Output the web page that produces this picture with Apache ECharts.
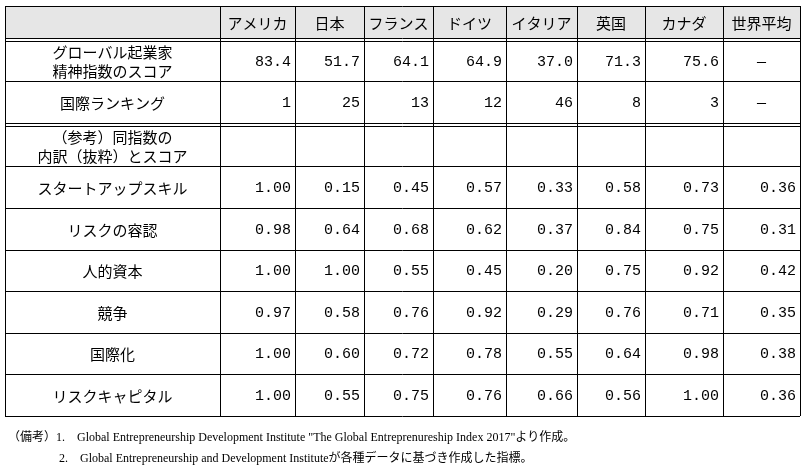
<!DOCTYPE html>
<html><head><meta charset="utf-8">
<script src="https://cdn.jsdelivr.net/npm/echarts@6/dist/echarts.min.js"></script>
<style>body{margin:0;background:#fff}#main{width:804px;height:472px}</style>
</head><body><div id="main"></div>
<script>
var countries = ['アメリカ', '日本', 'フランス', 'ドイツ', 'イタリア', '英国', 'カナダ', '世界平均'];
var rowLabels = [
    'グローバル起業家\n精神指数のスコア', '国際ランキング', '（参考）同指数の\n内訳（抜粋）とスコア',
    'スタートアップスキル', 'リスクの容認', '人的資本', '競争', '国際化', 'リスクキャピタル'
];
var gedi = ['83.4', '51.7', '64.1', '64.9', '37.0', '71.3', '75.6', '―'];
var ranking = ['1', '25', '13', '12', '46', '8', '3', '―'];
var blank = ['', '', '', '', '', '', '', ''];
var startup = ['1.00', '0.15', '0.45', '0.57', '0.33', '0.58', '0.73', '0.36'];
var risk = ['0.98', '0.64', '0.68', '0.62', '0.37', '0.84', '0.75', '0.31'];
var human = ['1.00', '1.00', '0.55', '0.45', '0.20', '0.75', '0.92', '0.42'];
var competition = ['0.97', '0.58', '0.76', '0.92', '0.29', '0.76', '0.71', '0.35'];
var intl = ['1.00', '0.60', '0.72', '0.78', '0.55', '0.64', '0.98', '0.38'];
var capital = ['1.00', '0.55', '0.75', '0.76', '0.66', '0.56', '1.00', '0.36'];
var notes = [
    '（備考）1.　Global Entrepreneurship Development Institute "The Global Entreprenureship Index 2017"より作成。',
    '　　　　 2.　Global Entrepreneurship and Development Instituteが各種データに基づき作成した指標。'
];

var rows = [gedi, ranking, blank, startup, risk, human, competition, intl, capital];
// レイアウト
var colX = [5, 220, 295, 364, 433, 506, 577, 645, 723, 800];
var rowY = [6, 38, 81, 123, 166, 208, 250, 291, 333, 374, 416];
var font = '"Noto Sans CJK JP", sans-serif';

function render() {
    var myChart = echarts.init(document.getElementById('main'), null, {renderer: 'canvas'});
    var g = [];
    var L = colX[0], R = colX[colX.length - 1], T = rowY[0], B = rowY[rowY.length - 1];
    g.push({type: 'rect', shape: {x: L, y: T, width: R - L, height: rowY[1] - T}, style: {fill: '#e6e6e6'}});
    // 横線
    for (var i = 0; i < rowY.length; i++) {
        var y = rowY[i] + 0.5;
        g.push({type: 'line', shape: {x1: L, y1: y, x2: R, y2: y}, style: {stroke: '#000', lineWidth: 1}});
        if (i == 1 || i == 3) {
            g.push({type: 'line', shape: {x1: L, y1: y + 3, x2: R, y2: y + 3}, style: {stroke: '#000', lineWidth: 1}});
        }
    }
    // 縦線
    for (var j = 0; j < colX.length; j++) {
        var x = colX[j] + 0.5;
        g.push({type: 'line', shape: {x1: x, y1: T, x2: x, y2: B}, style: {stroke: '#000', lineWidth: 1}});
    }
    // ヘッダー
    for (var j = 0; j < countries.length; j++) {
        g.push({type: 'text', x: (colX[j + 1] + colX[j + 2]) / 2, y: (rowY[0] + rowY[1]) / 2 + 1,
            style: {text: countries[j], font: '15px ' + font, fill: '#000', align: 'center', verticalAlign: 'middle'}});
    }
    // 本体
    for (var r = 0; r < rows.length; r++) {
        var top = rowY[r + 1] + (r == 0 || r == 2 ? 3 : 0);
        var cy = (top + rowY[r + 2]) / 2 + 1;
        g.push({type: 'text', x: (colX[0] + colX[1]) / 2, y: cy,
            style: {text: rowLabels[r], font: '15px ' + font, lineHeight: 19, fill: '#000', align: 'center', verticalAlign: 'middle'}});
        for (var c = 0; c < rows[r].length; c++) {
            var v = rows[r][c];
            var dash = v == '―';
            g.push({type: 'text', x: dash ? (colX[c + 1] + colX[c + 2]) / 2 : colX[c + 2] - 4, y: cy,
                style: {text: v, font: '15px "Liberation Mono", monospace', fill: '#000',
                    align: dash ? 'center' : 'right', verticalAlign: 'middle'}});
        }
    }
    for (var n = 0; n < notes.length; n++) {
        g.push({type: 'text', x: 8, y: 438 + n * 21,
            style: {text: notes[n], font: '12px "Liberation Serif", "Noto Sans CJK JP", serif', fill: '#000', verticalAlign: 'middle'}});
    }
    myChart.setOption({animation: false, graphic: g});
}
render();
</script></body></html>
